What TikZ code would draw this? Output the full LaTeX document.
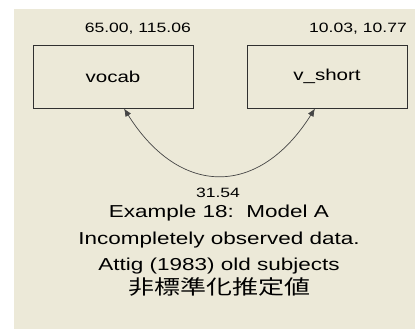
\documentclass[tikz,border=0pt]{standalone}
\usepackage{fontspec}
\setmainfont{Liberation Sans}[FakeStretch=1.3]
\newfontfamily\cjk{Noto Sans CJK JP}[FakeStretch=1.3]
\usetikzlibrary{arrows.meta,calc}
\definecolor{bgbeige}{HTML}{ECE9D8}
\definecolor{edgegray}{HTML}{303030}
\begin{document}
\begin{tikzpicture}[x=1pt,y=-1pt,
  varbox/.style={draw=edgegray,line width=0.9pt,fill=bgbeige,minimum width=160pt,minimum height=63pt,inner sep=0pt,font=\fontsize{15.8}{16}\selectfont},
  smalltxt/.style={inner sep=0pt,font=\fontsize{13.5}{14}\selectfont},
  titletxt/.style={inner sep=0pt,anchor=base,font=\fontsize{17.3}{18}\selectfont},
  cov/.style={draw=edgegray!90,line width=0.7pt,{Latex[length=8pt,width=6.5pt]}-{Latex[length=8pt,width=6.5pt]}}]
\useasboundingbox (0,0) rectangle (415,329);
\fill[bgbeige] (14,9) rectangle (415,329);
\node[varbox] (vocab) at (113,76.5) {vocab};
\node[varbox] (vshort) at (327,76.5) {v\_short};
\node[smalltxt,anchor=base east] (lvocab) at (191,33) {65.00, 115.06};
\node[smalltxt,anchor=base east] (lvshort) at (407,33) {10.03, 10.77};
\draw[cov] ($(vocab.south)+(11,0)$) .. controls ($(vocab.south)+(67,89)$) and ($(vshort.south)+(-68,89)$) .. ($(vshort.south)+(-12,0)$);
\node[smalltxt,anchor=base] (lcov) at (218,197.5) {31.54};
\node[titletxt] (t1) at (219,217) {Example 18:\ \ Model A};
\node[titletxt] (t2) at (219,244) {Incompletely observed data.};
\node[titletxt] (t3) at (219,270) {Attig (1983) old subjects};
\node[inner sep=0pt,anchor=base,font=\fontsize{20}{20}\cjk] (t4) at (219,294) {非標準化推定値};
\end{tikzpicture}
\end{document}
